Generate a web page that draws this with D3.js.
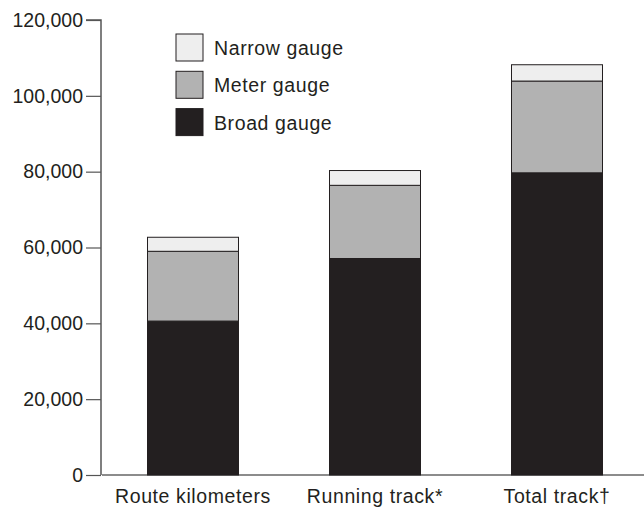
<!DOCTYPE html>
<html><head><meta charset="utf-8">
<script src="https://cdn.jsdelivr.net/npm/d3@7"></script>
<style>body{margin:0;background:#fff}svg{display:block}</style>
</head><body>
<script>
const categories = ["Route kilometers", "Running track*", "Total track†"];
const broadGauge = [40600, 57100, 79700];
const meterGauge = [18400, 19300, 24200];
const narrowGauge = [3700, 3900, 4300];
const seriesNames = ["Broad gauge", "Meter gauge", "Narrow gauge"];
const yTicks = [0, 20000, 40000, 60000, 80000, 100000, 120000];

const W = 644, H = 508;
const svg = d3.select("body").append("svg").attr("width", W).attr("height", H);
const font = "Liberation Sans, Arial, Helvetica, sans-serif";
const ink = "#231f20";
const colors = {"Broad gauge": "#231f20", "Meter gauge": "#b2b2b2", "Narrow gauge": "#eeeeee"};

const y = d3.scaleLinear().domain([0, 120000]).range([475, 20]);
const x = d3.scaleBand().domain(categories).range([102, 648]).paddingInner(0.5).paddingOuter(0.25);

const rows = categories.map((c, i) => ({cat: c, "Broad gauge": broadGauge[i], "Meter gauge": meterGauge[i], "Narrow gauge": narrowGauge[i]}));
const stacked = d3.stack().keys(seriesNames)(rows);

// x axis baseline
svg.append("line").attr("x1", 102).attr("x2", W).attr("y1", y(0)).attr("y2", y(0))
  .attr("stroke", "#666").attr("stroke-width", 1.5);

// bars
stacked.forEach(s => {
  svg.append("g").selectAll("rect").data(s).join("rect")
    .attr("x", d => x(d.data.cat))
    .attr("width", x.bandwidth())
    .attr("y", d => y(d[1]))
    .attr("height", d => y(d[0]) - y(d[1]))
    .attr("fill", colors[s.key])
    .attr("stroke", ink).attr("stroke-width", 1);
});

// y axis
const yAxis = d3.axisLeft(y).tickValues(yTicks).tickSize(15).tickPadding(3)
  .tickFormat(d3.format(","));
const gy = svg.append("g").attr("transform", "translate(101,0)").call(yAxis);
gy.select(".domain").attr("stroke", "#555").attr("stroke-width", 1.5).attr("d", `M-15,${y(120000)}H0V${y(0)}`);
gy.selectAll(".tick line").attr("stroke", "#555").attr("stroke-width", 1.2);
gy.selectAll(".tick text").attr("font-family", font).attr("font-size", 19.5).attr("fill", ink);

// x labels
svg.append("g").selectAll("text").data(categories).join("text")
  .attr("x", d => x(d) + x.bandwidth() / 2)
  .attr("y", 503)
  .attr("text-anchor", "middle")
  .attr("font-family", font).attr("font-size", 19.5).attr("letter-spacing", 0.6).attr("fill", ink)
  .text(d => d);

// legend
const legendOrder = ["Narrow gauge", "Meter gauge", "Broad gauge"];
const lg = svg.append("g").selectAll("g").data(legendOrder).join("g")
  .attr("transform", (d, i) => `translate(176,${34 + i * 37.3})`);
lg.append("rect").attr("width", 27).attr("height", 27)
  .attr("fill", d => colors[d]).attr("stroke", ink).attr("stroke-width", 1);
lg.append("text").attr("x", 38).attr("y", 21)
  .attr("font-family", font).attr("font-size", 19.5).attr("letter-spacing", 0.6).attr("fill", ink)
  .text(d => d);
</script>
</body></html>
